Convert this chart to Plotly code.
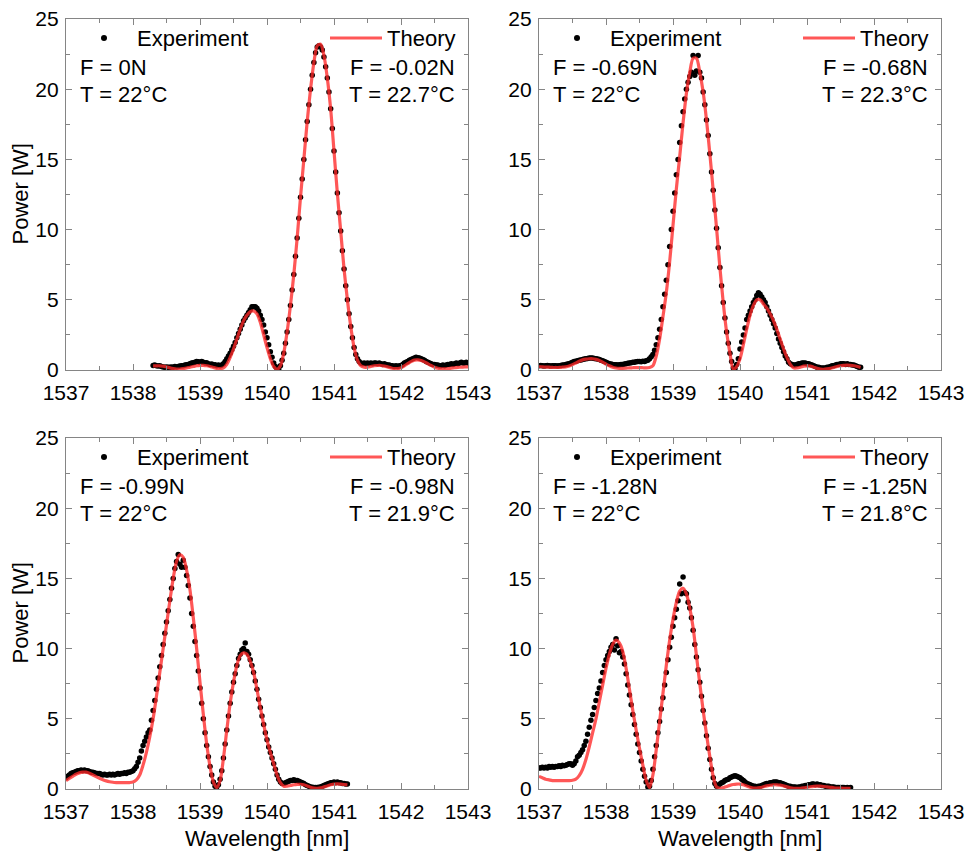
import numpy as np
import plotly.graph_objects as go

EXP_STEP = 0.025
THEO_STEP = 0.05

# ---------------- Panel 1: F = 0N ----------------
p1_exp_start = 1538.30
p1_exp = [
    0.32, 0.35, 0.3, 0.28, 0.3, 0.25, 0.22, 0.2, 0.22, 0.2,
    0.2, 0.22, 0.2, 0.25, 0.22, 0.25, 0.28, 0.3, 0.3, 0.35,
    0.38, 0.4, 0.45, 0.5, 0.52, 0.55, 0.6, 0.58, 0.55, 0.6,
    0.55, 0.5, 0.52, 0.45, 0.4, 0.42, 0.35, 0.38, 0.3, 0.35,
    0.3, 0.35, 0.45, 0.6, 0.8, 1.0, 1.2, 1.45, 1.7, 1.95,
    2.3, 2.6, 2.9, 3.2, 3.5, 3.7, 3.9, 4.1, 4.3, 4.5,
    4.5, 4.5, 4.4, 4.2, 3.9, 3.6, 3.2, 2.7, 2.3, 1.8,
    1.3, 0.9, 0.5, 0.25, 0.08, 0.05, 0.3, 0.7, 1.2, 1.9,
    2.7, 3.6, 4.6, 5.7, 6.8, 8.1, 9.4, 10.8, 12.3, 13.6,
    15.0, 16.4, 17.7, 18.9, 20.0, 21.0, 21.9, 22.6, 23.0, 23.1,
    23.0, 22.8, 22.3, 21.6, 20.8, 19.8, 18.6, 17.2, 15.6, 14.1,
    12.6, 11.2, 9.9, 8.5, 7.2, 6.0, 5.0, 4.0, 3.1, 2.3,
    1.6, 1.1, 0.8, 0.6, 0.5, 0.45, 0.5, 0.45, 0.5, 0.45,
    0.5, 0.45, 0.5, 0.5, 0.45, 0.5, 0.45, 0.4, 0.45, 0.4,
    0.35, 0.35, 0.3, 0.3, 0.25, 0.3, 0.25, 0.3, 0.3, 0.4,
    0.5, 0.55, 0.6, 0.7, 0.75, 0.8, 0.85, 0.9, 0.88, 0.85,
    0.8, 0.75, 0.7, 0.6, 0.55, 0.5, 0.45, 0.4, 0.4, 0.35,
    0.35, 0.3, 0.3, 0.35, 0.3, 0.35, 0.4, 0.4, 0.45, 0.4,
    0.45, 0.5, 0.45, 0.5, 0.55, 0.5, 0.5, 0.55, 0.5,
]
p1_theo_start = 1538.30
p1_theo = [
    0.3, 0.3, 0.3, 0.28, 0.22, 0.15, 0.1, 0.07, 0.07, 0.1,
    0.14, 0.2, 0.25, 0.3, 0.33, 0.33, 0.3, 0.25, 0.18, 0.12,
    0.1, 0.15, 0.4, 0.9, 1.5, 2.2, 2.9, 3.5, 3.9, 4.15,
    4.2, 4.0, 3.4, 2.5, 1.6, 0.8, 0.25,
    0.05, 0.3, 1.2, 2.7, 4.6, 6.8, 9.4, 12.3, 15.0, 17.7,
    20.0, 21.9, 23.1, 23.2, 22.4, 20.8, 18.6, 15.6, 12.6, 9.9,
    7.2, 5.0, 3.1, 1.6, 0.7, 0.3,
    0.2, 0.2, 0.25, 0.3, 0.32, 0.32, 0.28, 0.22, 0.15, 0.1,
    0.1, 0.15, 0.3, 0.45, 0.6, 0.7, 0.72, 0.68, 0.58, 0.45,
    0.32, 0.2, 0.12, 0.08, 0.08, 0.1, 0.13, 0.16, 0.19, 0.2,
    0.22, 0.22,
]

# ---------------- Panel 2: F = -0.69N ----------------
p2_exp_start = 1537.00
p2_exp = [
    0.3, 0.32, 0.3, 0.28, 0.3, 0.32, 0.3, 0.28, 0.3, 0.3,
    0.3, 0.28, 0.3, 0.32, 0.35, 0.35, 0.4, 0.42, 0.45, 0.5,
    0.55, 0.6, 0.62, 0.65, 0.7, 0.72, 0.75, 0.78, 0.8, 0.82,
    0.85, 0.85, 0.85, 0.82, 0.8, 0.78, 0.75, 0.7, 0.65, 0.6,
    0.55, 0.5, 0.45, 0.42, 0.4, 0.38, 0.38, 0.35, 0.38, 0.4,
    0.4, 0.42, 0.45, 0.48, 0.5, 0.52, 0.55, 0.55, 0.58, 0.6,
    0.6, 0.58, 0.62, 0.6, 0.65, 0.7, 0.8, 0.95, 1.1, 1.4,
    1.8, 2.3, 2.9, 3.6, 4.5, 5.4, 6.4, 7.5, 8.8, 10.0,
    11.3, 12.6, 13.9, 15.0, 16.2, 17.4, 18.4, 19.3, 20.0, 20.5,
    20.9, 21.2, 22.4, 21.0, 21.3, 22.4, 21.2, 20.8, 19.8, 18.9,
    17.8, 16.7, 15.4, 14.1, 12.8, 11.4, 10.1, 8.7, 7.3, 6.0,
    4.8, 3.7, 2.7, 1.9, 1.2, 0.6, 0.15, 0.1, 0.4, 0.8,
    1.5, 2.0, 2.5, 3.0, 3.6, 3.9, 4.2, 4.5, 4.8, 5.0,
    5.3, 5.5, 5.4, 5.2, 5.0, 4.8, 4.5, 4.2, 3.9, 3.6,
    3.3, 3.0, 2.6, 2.2, 1.9, 1.6, 1.3, 1.0, 0.8, 0.55,
    0.45, 0.4, 0.35, 0.35, 0.4, 0.45, 0.45, 0.5, 0.5, 0.5,
    0.45, 0.45, 0.4, 0.35, 0.3, 0.25, 0.2, 0.2, 0.15, 0.15,
    0.15, 0.15, 0.2, 0.2, 0.25, 0.3, 0.3, 0.35, 0.4, 0.4,
    0.45, 0.45, 0.45, 0.4, 0.45, 0.4, 0.4, 0.35, 0.35, 0.3,
    0.25, 0.2, 0.2,
]
p2_theo_start = 1537.00
p2_theo = [
    0.25, 0.22, 0.2, 0.2, 0.18, 0.18, 0.18, 0.2, 0.22, 0.28,
    0.38, 0.5, 0.62, 0.72, 0.78, 0.8, 0.8, 0.76, 0.68, 0.56,
    0.42, 0.3, 0.2, 0.14, 0.12, 0.12, 0.13, 0.15, 0.16, 0.17,
    0.17, 0.16, 0.15, 0.18,
    0.3, 1.0, 2.2, 3.8, 5.5, 7.7, 10.3, 12.9, 15.2, 17.6,
    19.7, 21.2, 22.2, 22.2, 21.2, 19.8, 17.8, 15.4, 12.8, 10.1,
    7.3, 4.8, 2.7, 1.2, 0.05, 0.25,
    0.8, 1.8, 2.9, 3.9, 4.6, 5.0, 5.0, 4.7, 4.4, 4.0,
    3.5, 2.9, 2.2, 1.5, 0.9, 0.4, 0.15, 0.15, 0.2, 0.28,
    0.3, 0.28, 0.2, 0.12, 0.06, 0.05, 0.08, 0.12, 0.18, 0.25,
    0.3, 0.33, 0.35, 0.33, 0.3, 0.25, 0.18,
]

# ---------------- Panel 3: F = -0.99N ----------------
p3_exp_start = 1537.00
p3_exp = [
    0.8, 0.9, 1.0, 1.1, 1.15, 1.2, 1.25, 1.3, 1.3, 1.35,
    1.3, 1.35, 1.3, 1.3, 1.25, 1.2, 1.2, 1.15, 1.1, 1.1,
    1.1, 1.05, 1.0, 1.05, 1.0, 1.0, 1.05, 1.0, 1.05, 1.0,
    1.05, 1.1, 1.05, 1.1, 1.1, 1.15, 1.1, 1.2, 1.2, 1.25,
    1.3, 1.45, 1.6, 1.9, 2.2, 2.7, 3.1, 3.4, 3.7, 4.0,
    4.2, 4.9, 5.6, 6.3, 7.1, 7.9, 8.7, 9.5, 10.3, 11.1,
    11.9, 12.7, 13.5, 14.3, 15.0, 15.7, 16.2, 16.7, 16.0, 15.8,
    16.3, 15.8, 15.2, 14.5, 13.6, 12.5, 11.6, 10.5, 9.5, 8.4,
    7.2, 6.1, 5.0, 4.0, 3.1, 2.3, 1.6, 1.0, 0.5, 0.2,
    0.15, 0.3, 0.7, 1.3, 2.2, 3.2, 4.2, 5.2, 6.1, 6.9,
    7.6, 8.2, 8.8, 9.3, 9.6, 9.9, 10.0, 10.4, 9.8, 9.6,
    9.2, 8.8, 8.3, 7.7, 7.1, 6.4, 5.8, 5.2, 4.6, 4.0,
    3.5, 3.0, 2.6, 2.2, 1.8, 1.4, 1.0, 0.7, 0.5, 0.4,
    0.4, 0.45, 0.5, 0.55, 0.6, 0.6, 0.65, 0.6, 0.6, 0.55,
    0.5, 0.45, 0.4, 0.3, 0.25, 0.2, 0.15, 0.12, 0.1, 0.1,
    0.1, 0.12, 0.15, 0.2, 0.25, 0.3, 0.35, 0.4, 0.45, 0.45,
    0.5, 0.45, 0.5, 0.45, 0.45, 0.4, 0.4, 0.35, 0.35,
]
p3_theo_start = 1537.00
p3_theo = [
    0.6, 0.75, 0.9, 1.05, 1.15, 1.2, 1.2, 1.12, 1.0, 0.88,
    0.76, 0.66, 0.58, 0.52, 0.48, 0.46, 0.45, 0.45, 0.45, 0.46,
    0.5, 0.65, 1.0, 1.7, 2.6, 3.7, 5.0, 6.6, 8.3, 10.0,
    11.7, 13.4, 15.0, 16.2, 16.7, 16.5, 15.6, 14.2, 12.2, 10.0,
    7.6, 5.3, 3.2, 1.6, 0.5, 0.1, 0.6, 2.2, 4.2, 6.1,
    7.6, 8.8, 9.5, 9.7, 9.6, 9.1, 8.3, 7.1, 5.8, 4.6,
    3.5, 2.6, 1.8, 1.0, 0.45, 0.2, 0.2, 0.25, 0.3, 0.33,
    0.33, 0.3, 0.22, 0.12, 0.06, 0.05, 0.08, 0.15, 0.22, 0.3,
    0.35, 0.36, 0.35, 0.32, 0.3,
]

# ---------------- Panel 4: F = -1.28N ----------------
p4_exp_start = 1537.00
p4_exp = [
    1.5, 1.5, 1.55, 1.5, 1.55, 1.5, 1.6, 1.55, 1.6, 1.55,
    1.6, 1.6, 1.65, 1.6, 1.7, 1.65, 1.7, 1.75, 1.8, 1.8,
    1.7, 1.8, 2.0, 2.3, 2.4, 2.6, 2.8, 3.1, 3.4, 3.9,
    4.4, 4.9, 5.3, 5.8, 6.3, 6.8, 7.2, 7.7, 8.3, 8.8,
    9.2, 9.5, 9.8, 10.1, 10.3, 9.9, 10.7, 10.2, 9.7, 9.8,
    9.4, 8.9, 8.2, 7.4, 6.7, 6.0, 5.3, 4.6, 3.9, 3.2,
    2.6, 2.0, 1.4, 0.9, 0.5, 0.15, 0.2, 0.6, 1.4, 2.3,
    3.1, 4.0, 4.8, 5.7, 6.5, 7.4, 8.3, 9.2, 10.1, 10.8,
    11.6, 12.2, 12.8, 13.4, 14.6, 13.9, 15.1, 14.0, 13.9, 13.3,
    12.9, 12.2, 11.3, 10.3, 9.4, 8.5, 7.6, 6.6, 5.6, 4.7,
    3.8, 2.9, 2.1, 1.4, 0.8, 0.4, 0.2, 0.25, 0.35, 0.45,
    0.5, 0.6, 0.65, 0.7, 0.8, 0.85, 0.9, 0.95, 0.9, 0.85,
    0.8, 0.7, 0.6, 0.5, 0.4, 0.35, 0.3, 0.25, 0.2, 0.2,
    0.15, 0.2, 0.2, 0.25, 0.3, 0.35, 0.4, 0.4, 0.45, 0.45,
    0.5, 0.5, 0.5, 0.45, 0.45, 0.4, 0.35, 0.3, 0.25, 0.2,
    0.2, 0.15, 0.15, 0.15, 0.1, 0.15, 0.15, 0.2, 0.2, 0.25,
    0.25, 0.3, 0.3, 0.35, 0.35, 0.3, 0.35, 0.3, 0.3, 0.25,
    0.25, 0.2, 0.2, 0.2, 0.15, 0.15, 0.15, 0.1, 0.1, 0.1,
    0.1, 0.1, 0.1, 0.08, 0.1, 0.08, 0.1,
]
p4_theo_start = 1537.00
p4_theo = [
    0.9, 0.8, 0.7, 0.65, 0.6, 0.6, 0.6, 0.6, 0.6, 0.6,
    0.62, 0.7, 0.95, 1.4, 2.1, 3.0, 4.0, 5.0, 6.2, 7.4,
    8.6, 9.6, 10.3, 10.6, 10.4, 9.8, 8.6, 7.1, 5.6, 4.2,
    2.9, 1.7, 0.6, 0.1, 1.0, 2.8, 4.8, 6.8, 8.8, 10.6,
    12.1, 13.3, 14.1, 14.3, 13.9, 12.9, 11.5, 9.5, 7.5, 5.6,
    3.9, 2.3, 0.9, 0.15, 0.05, 0.1, 0.18, 0.26, 0.32, 0.35,
    0.35, 0.3, 0.22, 0.13, 0.07, 0.06, 0.1, 0.16, 0.22, 0.27,
    0.3, 0.3, 0.28, 0.22, 0.15, 0.09, 0.05, 0.04, 0.05, 0.08,
    0.12, 0.16, 0.19, 0.2, 0.2, 0.18, 0.15, 0.12, 0.09, 0.07,
    0.06, 0.05, 0.05, 0.05,
]

# Annotation texts
left_F = ["F = 0N", "F = -0.69N", "F = -0.99N", "F = -1.28N"]
left_T = ["T = 22°C", "T = 22°C", "T = 22°C", "T = 22°C"]
right_F = ["F = -0.02N", "F = -0.68N", "F = -0.98N", "F = -1.25N"]
right_T = ["T = 22.7°C", "T = 22.3°C", "T = 21.9°C", "T = 21.8°C"]

x_ticks = [1537, 1538, 1539, 1540, 1541, 1542, 1543]
y_ticks = [0, 5, 10, 15, 20, 25]

panels = [
    (p1_exp_start, p1_exp, p1_theo_start, p1_theo),
    (p2_exp_start, p2_exp, p2_theo_start, p2_theo),
    (p3_exp_start, p3_exp, p3_theo_start, p3_theo),
    (p4_exp_start, p4_exp, p4_theo_start, p4_theo),
]

W, H = 968, 851
# plot-area pixel boxes (left, right, top, bottom)
boxes = [(66, 468, 19, 370), (539, 941, 19, 370),
         (66, 468, 438, 789), (539, 941, 438, 789)]

FONT = "Liberation Sans, Arial, Helvetica, sans-serif"
FRAME = "#858585"
RED = "rgba(255,40,40,0.78)"

fig = go.Figure()
layout = dict(
    width=W, height=H, margin=dict(l=0, r=0, t=0, b=0),
    paper_bgcolor="white", plot_bgcolor="white", showlegend=False,
    font=dict(family=FONT, size=21, color="black"),
)
annotations = []
shapes = []

for i, (es, ev, ts, tv) in enumerate(panels):
    n = i + 1
    xa = "x" if n == 1 else f"x{n}"
    ya = "y" if n == 1 else f"y{n}"
    ex = np.round(es + EXP_STEP * np.arange(len(ev)), 4)
    tx = np.round(ts + THEO_STEP * np.arange(len(tv)), 4)
    fig.add_trace(go.Scatter(x=ex, y=ev, mode="markers", xaxis=xa, yaxis=ya,
                             marker=dict(color="black", size=5.5),
                             name="Experiment"))
    fig.add_trace(go.Scatter(x=tx, y=tv, mode="lines", xaxis=xa, yaxis=ya,
                             line=dict(color=RED, width=3.2, shape="spline", smoothing=0.8),
                             name="Theory"))
    l, r, t, b = boxes[i]
    axcommon = dict(
        showline=True, linecolor=FRAME, linewidth=1.3, mirror="allticks",
        ticks="inside", ticklen=6, tickwidth=1.2, tickcolor=FRAME,
        showgrid=False, zeroline=False, automargin=False,
        tickfont=dict(family=FONT, size=21, color="black"),
    )
    xkey = "xaxis" if n == 1 else f"xaxis{n}"
    ykey = "yaxis" if n == 1 else f"yaxis{n}"
    layout[xkey] = dict(
        axcommon, domain=[l / W, r / W], range=[1537, 1543], anchor=ya,
        tickvals=x_ticks, ticktext=[str(v) for v in x_ticks],
        minor=dict(ticks="inside", ticklen=3.5, tickcolor=FRAME, tickwidth=1.1, dtick=0.5, tick0=1537),
        ticklabelstandoff=4,
    )
    layout[ykey] = dict(
        axcommon, domain=[1 - b / H, 1 - t / H], range=[0, 25], anchor=xa,
        tickvals=y_ticks, ticktext=[str(v) for v in y_ticks],
        minor=dict(ticks="inside", ticklen=3.5, tickcolor=FRAME, tickwidth=1.1, dtick=2.5, tick0=0),
        ticklabelstandoff=2,
    )
    xd = f"{xa} domain"
    yd = f"{ya} domain"
    ph = b - t
    pw = r - l
    y_leg = 1 - 19 / ph
    y_F = 1 - 48 / ph
    y_T = 1 - 75 / ph
    # legend: black dot
    shapes.append(dict(type="circle", xref=xd, yref=yd, xsizemode="pixel", ysizemode="pixel",
                       xanchor=38 / pw, yanchor=y_leg, x0=-3, x1=3, y0=-3, y1=3,
                       fillcolor="black", line=dict(width=0)))
    annotations.append(dict(xref=xd, yref=yd, x=69 / pw, y=y_leg, text="Experiment",
                            showarrow=False, xanchor="left", yanchor="middle",
                            font=dict(size=22)))
    shapes.append(dict(type="line", xref=xd, yref=yd, x0=264 / pw, x1=316 / pw,
                       y0=y_leg, y1=y_leg, line=dict(color=RED, width=3.2)))
    annotations.append(dict(xref=xd, yref=yd, x=391 / pw, y=y_leg, text="Theory",
                            showarrow=False, xanchor="right", yanchor="middle",
                            font=dict(size=22)))
    annotations.append(dict(xref=xd, yref=yd, x=12 / pw, y=y_F, text=left_F[i],
                            showarrow=False, xanchor="left", yanchor="middle", font=dict(size=22)))
    annotations.append(dict(xref=xd, yref=yd, x=12 / pw, y=y_T, text=left_T[i],
                            showarrow=False, xanchor="left", yanchor="middle", font=dict(size=22)))
    annotations.append(dict(xref=xd, yref=yd, x=391 / pw, y=y_F, text=right_F[i],
                            showarrow=False, xanchor="right", yanchor="middle", font=dict(size=22)))
    annotations.append(dict(xref=xd, yref=yd, x=391 / pw, y=y_T, text=right_T[i],
                            showarrow=False, xanchor="right", yanchor="middle", font=dict(size=22)))

# axis titles
for (l, r, t, b) in [boxes[0], boxes[2]]:
    annotations.append(dict(xref="paper", yref="paper", x=20 / W, y=1 - ((t + b) / 2) / H,
                            text="Power [W]", textangle=-90, showarrow=False,
                            xanchor="center", yanchor="middle", font=dict(size=22)))
for (l, r, t, b) in [boxes[2], boxes[3]]:
    annotations.append(dict(xref="paper", yref="paper", x=((l + r) / 2) / W, y=1 - 838 / H,
                            text="Wavelength [nm]", showarrow=False,
                            xanchor="center", yanchor="middle", font=dict(size=22)))

layout["annotations"] = annotations
layout["shapes"] = shapes
fig.update_layout(**layout)
fig.write_html("out.html")
